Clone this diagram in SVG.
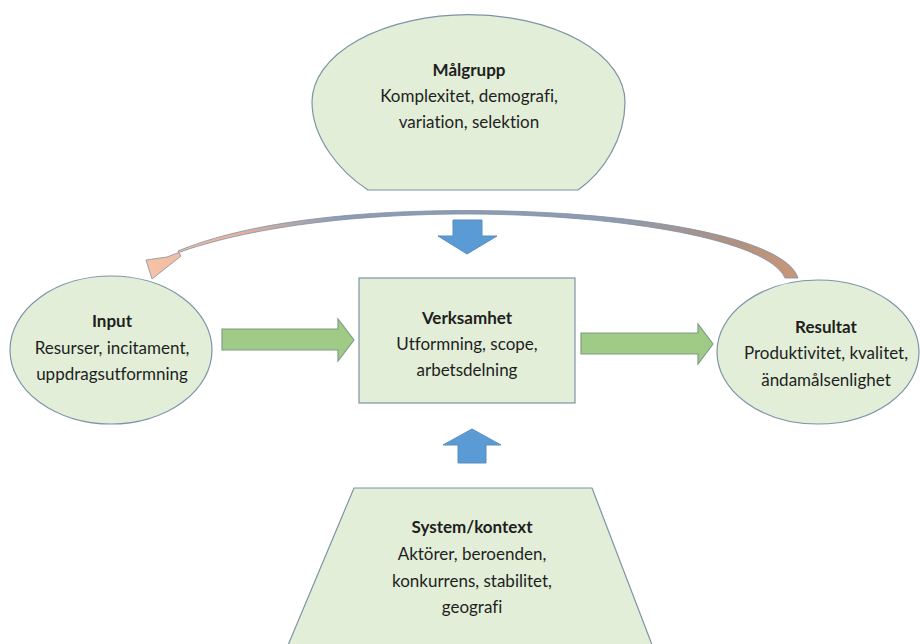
<svg xmlns="http://www.w3.org/2000/svg" width="920" height="644" viewBox="0 0 920 644">
<defs>
<style>
.node{fill:#E2EED8;stroke:#7D93A6;stroke-width:1.2}
.t{font-family:Lato,"Liberation Sans",sans-serif;font-size:17px;fill:#1E1E1E;text-anchor:middle;font-variant-ligatures:none;font-feature-settings:"liga" 0}
.b{font-weight:bold}
.green{fill:#A0CB86;stroke:#7E9C86;stroke-width:1.2}
.blue{fill:#5B9BD5;stroke:#5B8CC0;stroke-width:1}
</style>
<linearGradient id="curveGrad" x1="0" y1="0" x2="1" y2="0">
<stop offset="0" stop-color="#F6C3A7"/>
<stop offset="0.14" stop-color="#E6B49A"/>
<stop offset="0.3" stop-color="#8D9CB3"/>
<stop offset="0.7" stop-color="#8D9CB3"/>
<stop offset="0.9" stop-color="#B0917F"/>
<stop offset="1" stop-color="#C9977A"/>
</linearGradient>
</defs>
<rect width="920" height="644" fill="#FFFFFF"/>

<g id="connectors">
<path id="feedback" d="M 798 278 C 786 238 640 211 470 210.5 C 330 210.5 236 227 178 251 L 181 256 L 152 279 L 146 260 L 167 257 C 226 233 330 214 470 214 C 625 215 768 240 785 278 Z" fill="url(#curveGrad)" stroke="#7F8FA6" stroke-width="0.8"/>
<path id="arrow-input" class="green" d="M 222 329 L 338 329 L 338 319 L 354 340 L 338 361 L 338 350 L 222 350 Z"/>
<path id="arrow-result" class="green" d="M 581 333 L 698 333 L 698 324 L 713 344 L 698 364 L 698 354 L 581 354 Z"/>
<path id="arrow-down" class="blue" d="M 453 220 L 482 220 L 482 236 L 497 236 L 467 254 L 438 236 L 453 236 Z"/>
<path id="arrow-up" class="blue" d="M 458 463 L 486 463 L 486 445 L 501 445 L 472 429 L 443 445 L 458 445 Z"/>
</g>

<g id="malgrupp">
<path class="node" d="M 368 190 C 340 172 312 138 312 102 A 156 87 0 0 1 625 102 C 625 138 604 172 578 190 Z"/>
<text class="t b" x="469" y="76">Målgrupp</text>
<text class="t" x="469" y="102">Komplexitet, demografi,</text>
<text class="t" x="469" y="128">variation, selektion</text>
</g>

<g id="input">
<ellipse class="node" cx="111" cy="350" rx="101" ry="74"/>
<text class="t b" x="112" y="327">Input</text>
<text class="t" x="112" y="354">Resurser, incitament,</text>
<text class="t" x="112" y="380">uppdragsutformning</text>
</g>

<g id="verksamhet">
<rect class="node" x="359" y="278" width="216" height="125"/>
<text class="t b" x="467" y="324">Verksamhet</text>
<text class="t" x="467" y="350">Utformning, scope,</text>
<text class="t" x="467" y="376">arbetsdelning</text>
</g>

<g id="resultat">
<ellipse class="node" cx="818" cy="352" rx="101" ry="72"/>
<text class="t b" x="826" y="333">Resultat</text>
<text class="t" x="826" y="359">Produktivitet, kvalitet,</text>
<text class="t" x="826" y="386">ändamålsenlighet</text>
</g>

<g id="system">
<path class="node" d="M 354 488 L 592 488 L 654 650 L 286 650 Z"/>
<text class="t b" x="472" y="533">System/kontext</text>
<text class="t" x="472" y="560">Aktörer, beroenden,</text>
<text class="t" x="472" y="587">konkurrens, stabilitet,</text>
<text class="t" x="472" y="613">geografi</text>
</g>
</svg>
